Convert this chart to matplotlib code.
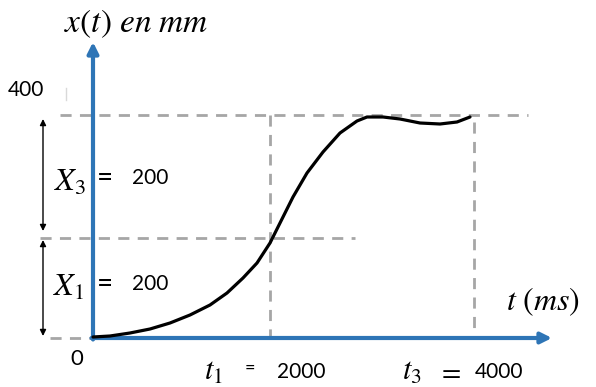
import matplotlib
matplotlib.use("Agg")
import matplotlib.pyplot as plt

plt.rcParams['mathtext.fontset'] = 'stix'
plt.rcParams['font.family'] = ['Lato', 'DejaVu Sans']

# sketch curve x(t), in drawing units (y grows downward, like the sketch)
curve_t = [93, 110, 130, 150, 170, 190, 210, 227, 243, 257, 270, 280, 293, 307,
           323, 340, 357, 367, 383, 400, 420, 440, 457, 470]
curve_x = [337, 336, 333, 329, 323, 315, 305, 293, 278, 263, 243, 223, 197, 173,
           152, 133, 121, 117, 117, 119, 123, 124, 122, 117]

origin = (93, 338)
t_marks = [270, 474]          # t1, t3
x_marks = [115, 238]          # 400 mm level, 200 mm level
t_labels = ['2000', '4000']
x_labels = ['200', '200']

blue = '#2E75B6'
gray = '#A6A6A6'

fig = plt.figure(figsize=(5.96, 3.87), dpi=100)
ax = fig.add_axes([0, 0, 1, 1])
ax.set_xlim(0, 596)
ax.set_ylim(387, 0)
ax.axis('off')

dash = dict(color=gray, lw=2, ls=(0, (4, 3)))
# horizontal dashed guides
ax.plot([60, 528], [x_marks[0], x_marks[0]], **dash)
ax.plot([40, 355], [x_marks[1], x_marks[1]], **dash)
ax.plot([50, origin[0]], [origin[1], origin[1]], **dash)
# vertical dashed guides
ax.plot([t_marks[0], t_marks[0]], [x_marks[0], origin[1]], **dash)
ax.plot([t_marks[1], t_marks[1]], [122, origin[1]], **dash)
ax.plot([66, 66], [88, 100], color='#D9D9D9', lw=1)

# curve
ax.plot(curve_t, curve_x, color='black', lw=2.3, solid_capstyle='round',
        solid_joinstyle='round', zorder=4)

# axes arrows
ax.annotate('', xy=(552, origin[1]), xytext=(origin[0] - 1.5, origin[1]),
            arrowprops=dict(arrowstyle='-|>', color=blue, lw=3, mutation_scale=16,
                            shrinkA=0, shrinkB=0), zorder=3)
ax.annotate('', xy=(origin[0], 42), xytext=(origin[0], origin[1] + 1.5),
            arrowprops=dict(arrowstyle='-|>', color=blue, lw=3, mutation_scale=16,
                            shrinkA=0, shrinkB=0), zorder=3)

# double arrows for X3 and X1
for y0, y1 in [(119, 231), (240, 336)]:
    ax.annotate('', xy=(43, y0), xytext=(43, y1),
                arrowprops=dict(arrowstyle='<|-|>', color='black', lw=1,
                                mutation_scale=9, shrinkA=0, shrinkB=0))

# texts
ax.text(64, 24, r'$x(t)\ en\ mm$', fontsize=24, va='center', ha='left')
ax.text(8, 90, '400', fontsize=15, va='center', ha='left')
ax.text(54, 182, r'$X_3$', fontsize=23, va='center', ha='left')
ax.text(97, 178, '=', fontsize=20, va='center', ha='left')
ax.text(132, 178, x_labels[0], fontsize=15, va='center', ha='left')
ax.text(53, 287, r'$X_1$', fontsize=23, va='center', ha='left')
ax.text(97, 284, '=', fontsize=20, va='center', ha='left')
ax.text(132, 284, x_labels[1], fontsize=15, va='center', ha='left')
ax.text(506, 302, r'$t\ (ms)$', fontsize=23, va='center', ha='left')
ax.text(70, 359, '0', fontsize=16, va='center', ha='left')
ax.text(204, 372, r'$t_1$', fontsize=22, va='center', ha='left')
ax.text(245, 368, '=', fontsize=13, va='center', ha='left')
ax.text(277, 372, t_labels[0], fontsize=15, va='center', ha='left')
ax.text(402, 372, r'$t_3$', fontsize=22, va='center', ha='left')
ax.text(437, 371, r'$=$', fontsize=20, va='center', ha='left')
ax.text(475, 372, t_labels[1], fontsize=15, va='center', ha='left')

fig.savefig('out.png', dpi=100)
